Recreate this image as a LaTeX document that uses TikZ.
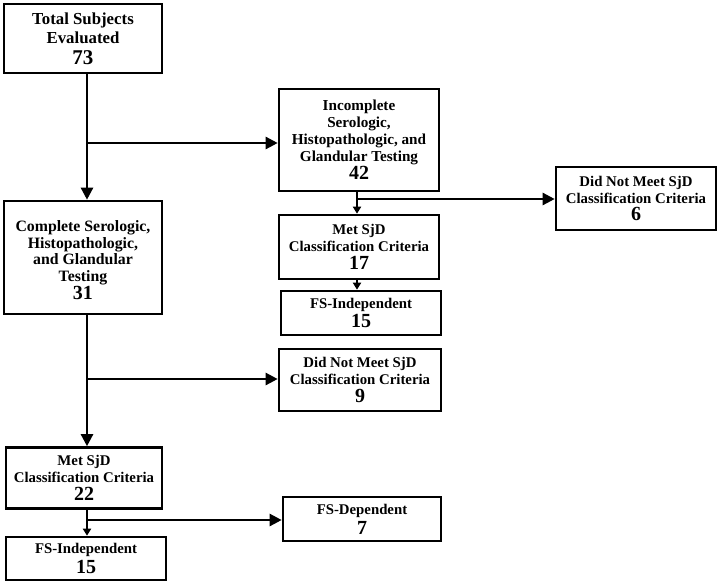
\documentclass[tikz,border=0pt]{standalone}
\usepackage{fontspec}
\setmainfont{Liberation Serif}
\usetikzlibrary{arrows.meta}
\newcommand\bignum[2][20]{{\fontsize{#1}{#1}\selectfont #2}}
\begin{document}
\begin{tikzpicture}[x=1pt,y=-1pt,
  box/.style={draw, line width=2.6pt, inner sep=0pt, align=center,
    font=\bfseries\fontsize{14.8}{16.8}\selectfont},
  conn/.style={line width=2.4pt, -{Triangle[length=12pt,width=12pt]}},
  sconn/.style={line width=2.4pt, -{Triangle[length=7pt,width=8pt]}}]
\useasboundingbox (0,0) rectangle (720,584);

\node[box, minimum width=158pt, minimum height=69pt,
  font=\bfseries\fontsize{16.8}{19.5}\selectfont] (total) at (83,38.5)
  {Total Subjects\\Evaluated\\[1pt]\bignum[21]{73}};
\node[box, minimum width=158pt, minimum height=113pt,
  font=\bfseries\fontsize{15.8}{16.8}\selectfont] (complete) at (83,257.5)
  {\rule{0pt}{16pt}Complete Serologic,\\Histopathologic,\\and Glandular\\Testing\\[1pt]\bignum{31}};
\node[box, minimum width=160pt, minimum height=102pt,
  font=\bfseries\fontsize{15.2}{17}\selectfont] (incomplete) at (359,140)
  {Incomplete\\Serologic,\\Histopathologic, and\\Glandular Testing\\[1pt]\bignum{42}};
\node[box, minimum width=160pt, minimum height=63pt] (dnm6) at (636,198.5)
  {Did Not Meet SjD\\Classification Criteria\\[1pt]\bignum{6}};
\node[box, minimum width=160pt, minimum height=64pt] (met17) at (359,247)
  {Met SjD\\Classification Criteria\\[1pt]\bignum{17}};
\node[box, minimum width=160pt, minimum height=44pt] (fsi15a) at (361,313)
  {FS-Independent\\[3pt]\bignum{15}};
\node[box, minimum width=162pt, minimum height=62pt] (dnm9) at (360,380)
  {Did Not Meet SjD\\Classification Criteria\\[1pt]\bignum{9}};
\node[box, minimum width=156pt, minimum height=61pt] (met22) at (84,478)
  {Met SjD\\Classification Criteria\\[1pt]\bignum{22}};
\node[box, minimum width=158pt, minimum height=44pt] (fsd7) at (362,519)
  {FS-Dependent\\[3pt]\bignum{7}};
\node[box, minimum width=160pt, minimum height=43pt] (fsi15b) at (86,558.5)
  {FS-Independent\\[3pt]\bignum{15}};

% junctions
\coordinate (j1) at (87,143);
\coordinate (j2) at (357,199);
\coordinate (j3) at (357,285);
\coordinate (j4) at (87,379);
\coordinate (j5) at (87,520);

\draw[conn] (total.south -| j1) -- (complete.north -| j1);
\draw[conn] (j1) -- (incomplete.west |- j1);

\draw[sconn] (incomplete.south -| j2) -- (met17.north -| j2);
\draw[conn] (j2) -- (dnm6.west |- j2);

\draw[sconn] (met17.south -| j3) -- (fsi15a.north -| j3);

\draw[conn] (complete.south -| j4) -- (met22.north -| j4);
\draw[conn] (j4) -- (dnm9.west |- j4);

\draw[sconn] (met22.south -| j5) -- (fsi15b.north -| j5);
\draw[conn] (j5) -- (fsd7.west |- j5);
\end{tikzpicture}
\end{document}
